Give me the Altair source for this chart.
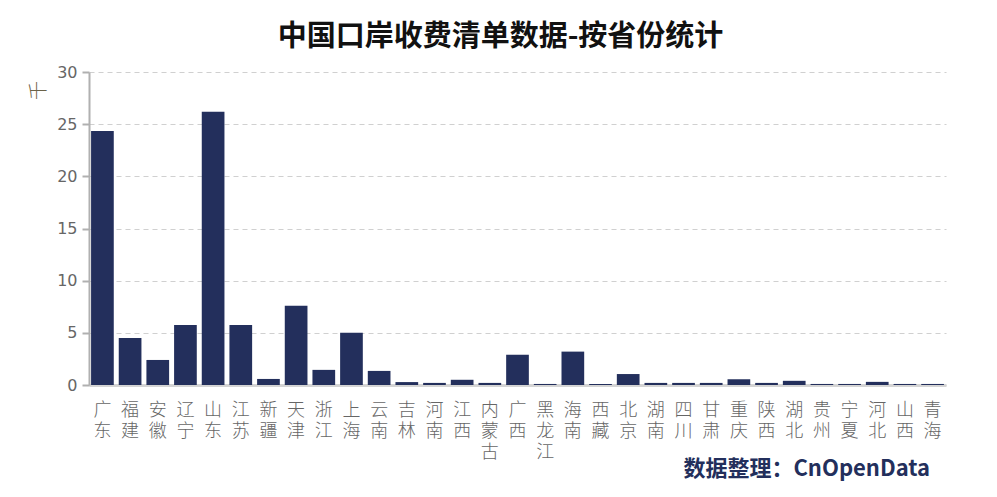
import altair as alt
import pandas as pd

provinces = ["广东", "福建", "安徽", "辽宁", "山东", "江苏", "新疆", "天津", "浙江", "上海",
             "云南", "吉林", "河南", "江西", "内蒙古", "广西", "黑龙江", "海南", "西藏", "北京",
             "湖南", "四川", "甘肃", "重庆", "陕西", "湖北", "贵州", "宁夏", "河北", "山西", "青海"]
values = [24.35, 4.5, 2.4, 5.75, 26.2, 5.75, 0.58, 7.6, 1.45, 5.0,
          1.35, 0.28, 0.2, 0.5, 0.2, 2.9, 0.1, 3.2, 0.1, 1.05,
          0.2, 0.2, 0.2, 0.55, 0.2, 0.4, 0.1, 0.1, 0.3, 0.1, 0.1]
title_text = "中国口岸收费清单数据-按省份统计"
footer_text = "数据整理：CnOpenData"
y_title = "千"

df = pd.DataFrame({"province": provinces, "value": values})

bars = alt.Chart(df).mark_bar(color="#232f5c").encode(
    x=alt.X("province:N", sort=provinces,
            scale=alt.Scale(paddingInner=0.18, paddingOuter=0.075),
            axis=alt.Axis(title=None, labelAngle=0, ticks=False,
                          labelExpr="split(datum.label, '')",
                          labelFont="Noto Sans CJK SC", labelFontSize=18,
                          labelFontWeight=300,
                          labelLineHeight=21, labelColor="#666666",
                          labelBaseline="top", labelPadding=16,
                          domainColor="#d4d4d4", domainWidth=3, grid=False)),
    y=alt.Y("value:Q", scale=alt.Scale(domain=[0, 30], nice=False),
            axis=alt.Axis(values=[0, 5, 10, 15, 20, 25, 30], title=y_title,
                          titleFont="Noto Sans CJK SC", titleFontSize=19,
                          titleFontWeight=300, titleColor="#6b6248",
                          titleAngle=-90, titleX=-51, titleY=18,
                          titleAlign="center", titleBaseline="middle",
                          labelFont="DejaVu Sans", labelFontSize=16,
                          labelColor="#666666", labelPadding=5,
                          tickSize=7, tickColor="#b0b0b0", tickWidth=2,
                          domainColor="#b0b0b0", domainWidth=2,
                          grid=True, gridColor="#d0d0d0", gridDash=[5, 4],
                          gridWidth=1.2)),
)

footer = alt.Chart(pd.DataFrame({"t": [footer_text]})).mark_text(
    font="Noto Sans CJK SC", fontSize=22, fontWeight="bold", color="#232f5c",
    align="right", baseline="middle"
).encode(text="t:N", x=alt.value(841), y=alt.value(397))

chart = alt.layer(bars, footer).properties(
    width=857, height=313,
    title=alt.TitleParams(title_text, font="Noto Sans CJK SC", fontSize=29,
                          fontWeight="bold", color="#111111", anchor="middle",
                          dx=-17, offset=12),
    autosize=alt.AutoSizeParams(type="none"),
    padding={"left": 81, "top": 64, "right": 43, "bottom": 104},
    background="white",
).configure_view(stroke=None)

chart.save("out.html", embed_options={"renderer": "svg", "actions": False})
